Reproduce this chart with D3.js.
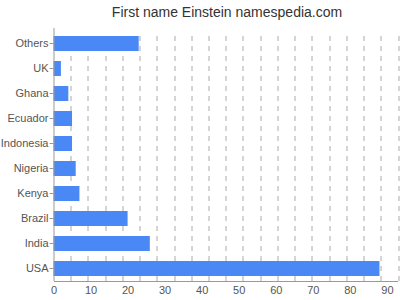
<!DOCTYPE html>
<meta charset="utf-8">
<style>
  body { margin: 0; background: #fff; }
  text { font-family: "Liberation Sans", Arial, sans-serif; }
  .title { fill: #333; font-size: 14px; text-anchor: middle; }
  .axis text { fill: #555; font-size: 11px; }
  .axis path, .axis line { stroke: #999; }
  .grid line { stroke: #aaa; stroke-dasharray: 5,5; }
  .bar { fill: #4a88f6; }
</style>
<body>
<script src="https://cdn.jsdelivr.net/npm/d3@7"></script>
<script>

var width = 400,
    height = 300;

// data
var countries = ["Others", "UK", "Ghana", "Ecuador", "Indonesia", "Nigeria", "Kenya", "Brazil", "India", "USA"];
var counts = [23, 2, 4, 5, 5, 6, 7, 20, 26, 88];
var xTicks = [0, 10, 20, 30, 40, 50, 60, 70, 80, 90];

var margin = {top: 31, right: 2, bottom: 19, left: 53.5};
var plotW = width - margin.left - margin.right,
    plotH = height - margin.top - margin.bottom;

var svg = d3.select("body").append("svg")
    .attr("width", width)
    .attr("height", height);

svg.append("text")
    .attr("class", "title")
    .attr("x", 227)
    .attr("y", 17)
    .text("First name Einstein namespedia.com");

var g = svg.append("g")
    .attr("transform", "translate(" + margin.left + "," + margin.top + ")");

var x = d3.scaleLinear().domain([0, 93]).range([0, plotW]);
var y = d3.scaleBand().domain(countries).range([0, plotH]).paddingInner(0.4).paddingOuter(0.2);

// dashed grid, 20 equal divisions of the plot width
var frac = d3.scaleLinear().domain([0, 20]).range([0, plotW]);
g.append("g").attr("class", "grid")
  .selectAll("line")
  .data(d3.range(1, 21))
  .enter().append("line")
    .attr("x1", function(d) { return Math.round(frac(d)) + 0.5; })
    .attr("x2", function(d) { return Math.round(frac(d)) + 0.5; })
    .attr("y1", 5)
    .attr("y2", plotH);

g.selectAll(".bar")
    .data(countries)
  .enter().append("rect")
    .attr("class", "bar")
    .attr("x", x(0))
    .attr("y", function(d) { return y(d); })
    .attr("width", function(d, i) { return x(counts[i]); })
    .attr("height", y.bandwidth());

g.append("g")
    .attr("class", "axis")
    .attr("transform", "translate(0," + plotH + ")")
    .call(d3.axisBottom(x).tickValues(xTicks).tickSize(0).tickPadding(5))
    .call(function(a) { a.select(".domain").attr("d", "M0.5,0.5H" + plotW); });

g.append("g")
    .attr("class", "axis")
    .call(d3.axisLeft(y).tickSize(4).tickPadding(1))
    .call(function(a) { a.select(".domain").attr("d", "M0.5,-3V" + plotH); });

</script>
